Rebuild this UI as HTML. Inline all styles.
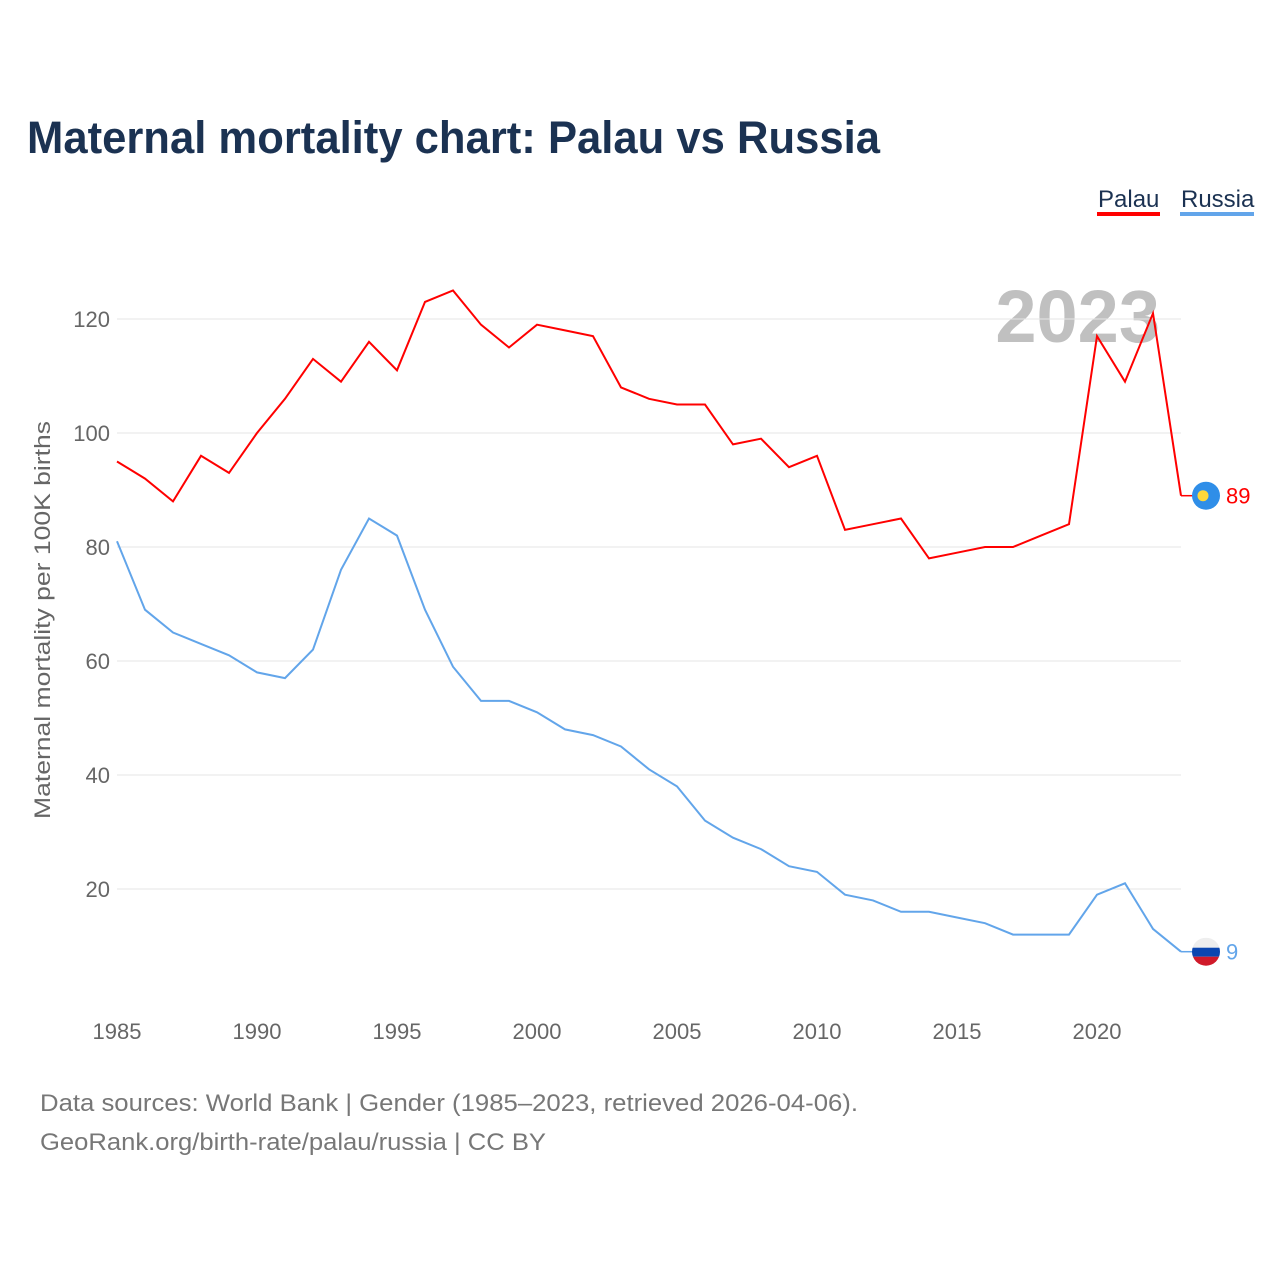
<!DOCTYPE html>
<html><head><meta charset="utf-8"><style>
body{margin:0;background:#fff;width:1280px;height:1280px;overflow:hidden;font-family:"Liberation Sans",sans-serif}
</style></head><body>
<svg id="chart" width="1280" height="1280" xmlns="http://www.w3.org/2000/svg" font-family="Liberation Sans, sans-serif">
<text x="27" y="153" font-size="45" font-weight="bold" fill="#1b3252" textLength="853" lengthAdjust="spacingAndGlyphs">Maternal mortality chart: Palau vs Russia</text>
<g>
<text x="1098" y="207" font-size="24" fill="#1b3252">Palau</text>
<rect x="1097" y="212" width="63" height="4" fill="#ff0000"/>
<text x="1181" y="207" font-size="24" fill="#1b3252">Russia</text>
<rect x="1180" y="212" width="74" height="4" fill="#62a5ea"/>
</g>
<text x="1160" y="342" font-size="74" font-weight="bold" fill="#c0c0c0" text-anchor="end">2023</text>
<g id="grid"></g><g id="xt"></g>
<text transform="translate(50,620) rotate(-90)" font-size="22" fill="#666" text-anchor="middle" textLength="398" lengthAdjust="spacingAndGlyphs">Maternal mortality per 100K births</text>
<g id="lines"></g>
<text x="40" y="1111" font-size="24" fill="#777" textLength="818" lengthAdjust="spacingAndGlyphs">Data sources: World Bank | Gender (1985–2023, retrieved 2026-04-06).</text>
<text x="40" y="1150" font-size="24" fill="#777" textLength="506" lengthAdjust="spacingAndGlyphs">GeoRank.org/birth-rate/palau/russia | CC BY</text>
</svg>
<script>
const years=[];for(let y=1985;y<=2023;y++)years.push(y);
const palau=[95,92,88,96,93,100,106,113,109,116,111,123,125,119,115,119,118,117,108,106,105,105,98,99,94,96,83,84,85,78,79,80,80,82,84,117,109,121,89];
const russia=[81,69,65,63,61,58,57,62,76,85,82,69,59,53,53,51,48,47,45,41,38,32,29,27,24,23,19,18,16,16,15,14,12,12,12,19,21,13,9];
const yTicks=[20,40,60,80,100,120];
const xTicks=[1985,1990,1995,2000,2005,2010,2015,2020];
const NS="http://www.w3.org/2000/svg";
const xs=y=>117+(y-1985)*28, ys=v=>1003-v*5.7;
function mk(t,a,p){const e=document.createElementNS(NS,t);for(const k in a)e.setAttribute(k,a[k]);p.appendChild(e);return e;}
const g=document.getElementById('grid');
yTicks.forEach(v=>{
 const l=mk('line',{x1:117,x2:1181,y1:ys(v),y2:ys(v),stroke:'#e6e6e6'},g);
 
 
 const t=mk('text',{x:110,y:ys(v)+8,'font-size':22,fill:'#666','text-anchor':'end'},g);t.textContent=v;
 
 
});
const xt=document.getElementById('xt');
xTicks.forEach(v=>{
 const t=mk('text',{x:xs(v),y:1039,'font-size':22,fill:'#666','text-anchor':'middle'},xt);t.textContent=v;
 
 
});
const L=document.getElementById('lines');
function series(d,c,name){
 const p=mk('polyline',{points:d.map((v,i)=>xs(years[i])+','+ys(v)).join(' '),fill:'none',stroke:c,'stroke-width':2},L);
 
 
 const last=d[d.length-1];
 mk('line',{x1:xs(2023),x2:1195,y1:ys(last),y2:ys(last),stroke:c,'stroke-width':1.5},L);
 const lab=mk('text',{x:1226,y:ys(last)+8,'font-size':22,fill:c},L);lab.textContent=last;
 
 
 return ys(last);
}
const py=series(palau,'#ff0000','palau');
const ry=series(russia,'#62a5ea','russia');
const f1=mk('circle',{cx:1206,cy:py,r:14,fill:'#2f8ee8'},L);


mk('circle',{cx:1203,cy:py,r:5.5,fill:'#ffd83a'},L);
const cp=mk('clipPath',{id:'rc'},L);mk('circle',{cx:1206,cy:ry,r:14},cp);
const f2=mk('g',{'clip-path':'url(#rc)'},L);


mk('rect',{x:1192,y:ry-14,width:28,height:10,fill:'#eee'},f2);
mk('rect',{x:1192,y:ry-4,width:28,height:9,fill:'#0b46b0'},f2);
mk('rect',{x:1192,y:ry+5,width:28,height:10,fill:'#d01a2a'},f2);
</script>
</body></html>
